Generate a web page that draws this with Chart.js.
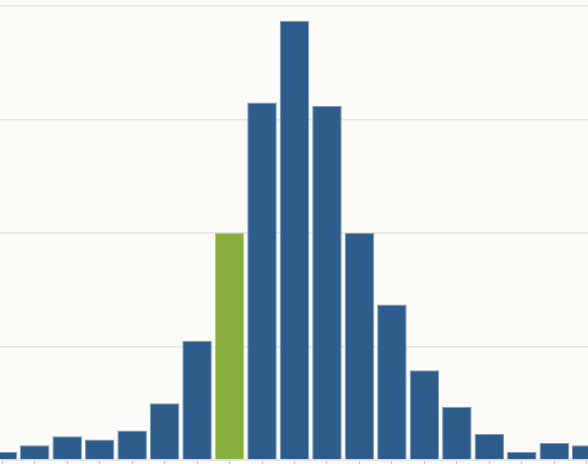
<!DOCTYPE html>
<html>
<head>
<meta charset="utf-8">
<script src="https://cdn.jsdelivr.net/npm/chart.js@4/dist/chart.umd.min.js"></script>
<style>
  html, body { margin: 0; padding: 0; background: #fcfbf7; overflow: hidden; }
  #wrap { position: absolute; left: -14px; top: 0; width: 617px; height: 464px; }
</style>
</head>
<body>
<div id="wrap"><canvas id="chart"></canvas></div>
<script>
// categories (bins) and counts
const bins = ["1", "2", "3", "4", "5", "6", "7", "8", "9", "10",
              "11", "12", "13", "14", "15", "16", "17", "18", "19"];
const counts = [7, 13, 21, 18, 26, 50, 105, 200, 315, 387,
                312, 200, 137, 79, 47, 23, 7, 15, 13];
const highlightIndex = 7;

const BLUE = "#2e5d8c";
const BLUE_EDGE = "#7b9cbf";
const GREEN = "#8aaf3f";
const GREEN_EDGE = "#b3cc7c";

// ─── CHART INIT ───────────────────────────────────────────────
const ctx = document.getElementById("chart").getContext("2d");
new Chart(ctx, {
    type: "bar",
    data: {
        labels: bins,
        datasets: [{
            data: counts,
            backgroundColor: counts.map((v, i) => i === highlightIndex ? GREEN : BLUE),
            borderColor: counts.map((v, i) => i === highlightIndex ? GREEN_EDGE : BLUE_EDGE),
            borderWidth: 1,
            categoryPercentage: 1.0,
            barPercentage: 0.91
        }]
    },
    options: {
        responsive: true,
        maintainAspectRatio: false,
        animation: false,
        layout: { padding: { top: 6, left: 0, right: 0, bottom: 0 } },
        plugins: {
            legend: { display: false },
            tooltip: { enabled: false }
        },
        scales: {
            x: {
                ticks: { display: false },
                grid: {
                    offset: false,
                    drawOnChartArea: false,
                    tickLength: 4,
                    color: "#c8c6c2"
                },
                border: { display: true, color: "#e6e4e0", width: 1 }
            },
            y: {
                min: 0,
                max: 400,
                ticks: { display: false, stepSize: 100 },
                grid: { drawTicks: false, color: "#e6e4e1", lineWidth: 1.5 },
                border: { display: false }
            }
        }
    }
});
</script>
</body>
</html>
